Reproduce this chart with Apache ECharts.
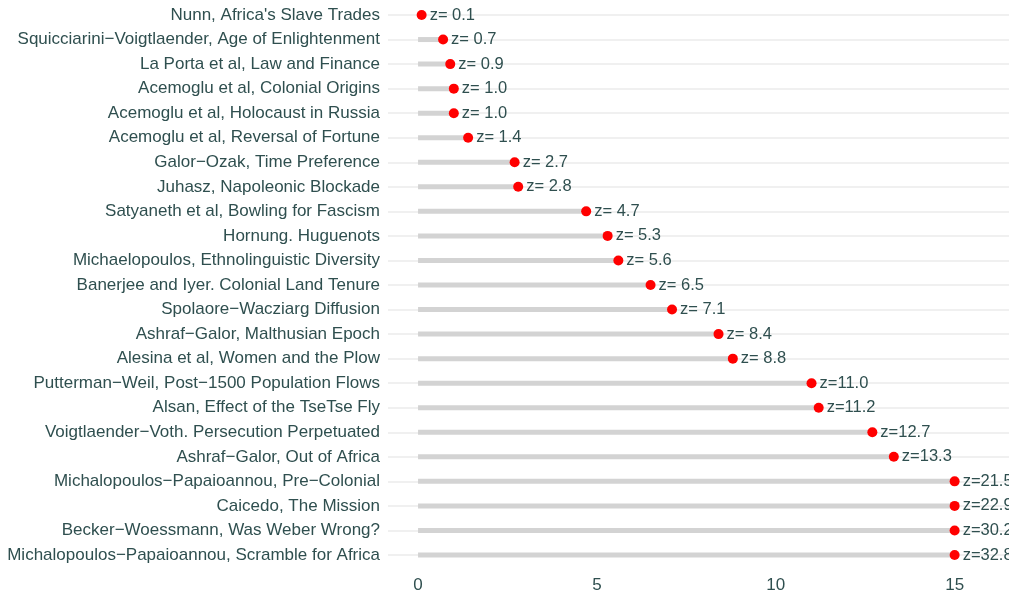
<!DOCTYPE html>
<html>
<head>
<meta charset="utf-8">
<script src="https://cdn.jsdelivr.net/npm/echarts@6/dist/echarts.min.js"></script>
<style>
  html, body { margin: 0; padding: 0; background: #fff; }
  #chart { width: 1009px; height: 594px; }
</style>
</head>
<body>
<div id="chart"></div>
<script>
// papers, top to bottom
const papers = [
  "Nunn, Africa's Slave Trades",
  'Squicciarini\u2212Voigtlaender, Age of Enlightenment',
  'La Porta et al, Law and Finance',
  'Acemoglu et al, Colonial Origins',
  'Acemoglu et al, Holocaust in Russia',
  'Acemoglu et al, Reversal of Fortune',
  'Galor\u2212Ozak, Time Preference',
  'Juhasz, Napoleonic Blockade',
  'Satyaneth et al, Bowling for Fascism',
  'Hornung. Huguenots',
  'Michaelopoulos, Ethnolinguistic Diversity',
  'Banerjee and Iyer. Colonial Land Tenure',
  'Spolaore\u2212Wacziarg Diffusion',
  'Ashraf\u2212Galor, Malthusian Epoch',
  'Alesina et al, Women and the Plow',
  'Putterman\u2212Weil, Post\u22121500 Population Flows',
  'Alsan, Effect of the TseTse Fly',
  'Voigtlaender\u2212Voth. Persecution Perpetuated',
  'Ashraf\u2212Galor, Out of Africa',
  'Michalopoulos\u2212Papaioannou, Pre\u2212Colonial',
  'Caicedo, The Mission',
  'Becker\u2212Woessmann, Was Weber Wrong?',
  'Michalopoulos\u2212Papaioannou, Scramble for Africa'
]
const zScores = [0.1, 0.7, 0.9, 1.0, 1.0, 1.4, 2.7, 2.8, 4.7, 5.3, 5.6, 6.5, 7.1, 8.4, 8.8,
  11.0, 11.2, 12.7, 13.3, 21.5, 22.9, 30.2, 32.8]
const zCap = 15
const xTicks = [0, 5, 10, 15]

const plotted = zScores.map(z => Math.min(z, zCap))
const textColor = '#2F4F4F'
const fontFamily = '"Liberation Sans", Arial, sans-serif'

const myChart = echarts.init(document.getElementById('chart'))
myChart.setOption({
  animation: false,
  grid: { left: 388, right: 0, top: 15, bottom: 32, containLabel: false },
  xAxis: {
    type: 'value',
    min: -0.84,
    max: 16.52,
    axisLine: { show: false },
    axisTick: { show: false },
    splitLine: { show: false },
    axisLabel: {
      customValues: xTicks,
      color: textColor,
      fontSize: 17,
      fontFamily: fontFamily,
      margin: 22
    }
  },
  yAxis: {
    type: 'category',
    data: papers,
    inverse: true,
    boundaryGap: false,
    axisLine: { show: false },
    axisTick: { show: false },
    axisLabel: {
      color: textColor,
      fontSize: 17,
      fontFamily: fontFamily,
      margin: 8
    },
    splitLine: { show: true, lineStyle: { color: '#ebebeb', width: 1.5 } }
  },
  series: [
    {
      type: 'bar',
      data: plotted,
      barWidth: 5,
      clip: false,
      itemStyle: { color: '#d3d3d3' },
      z: 2
    },
    {
      type: 'scatter',
      data: plotted,
      symbolSize: 10,
      clip: false,
      itemStyle: { color: '#ff0000', opacity: 1 },
      z: 3,
      label: {
        show: true,
        position: 'right',
        distance: 3,
        color: textColor,
        fontSize: 16.5,
        fontFamily: fontFamily,
        formatter: p => {
          const z = zScores[p.dataIndex]
          return (z < 10 ? 'z= ' : 'z=') + z.toFixed(1)
        }
      }
    }
  ]
})
</script>
</body>
</html>
